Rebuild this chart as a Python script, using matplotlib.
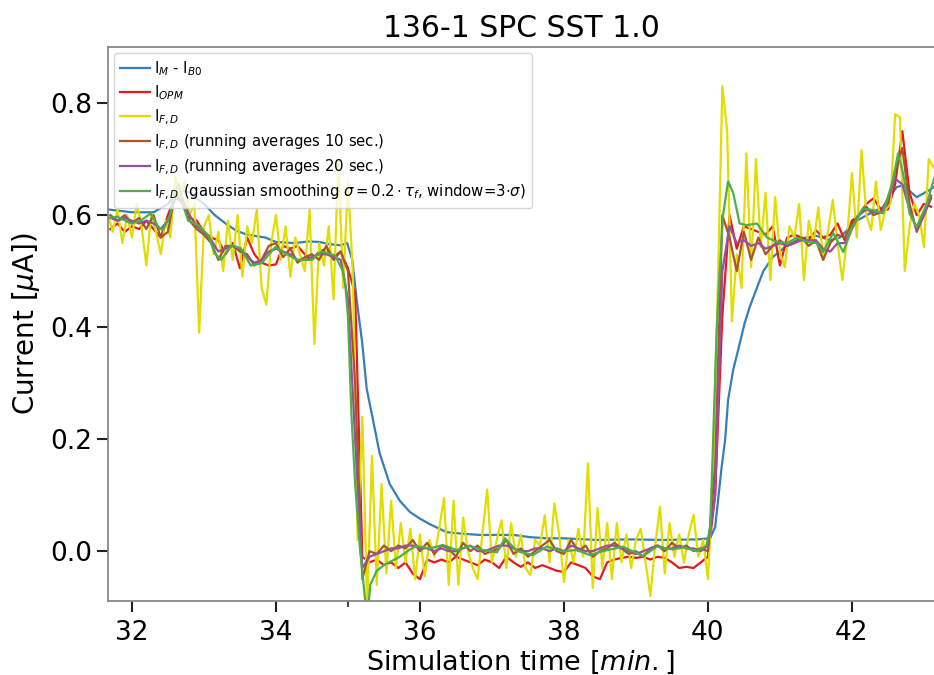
import numpy as np
import matplotlib
matplotlib.use("Agg")
import matplotlib.pyplot as plt

# ---------------- data ----------------
# I_M - I_B0 (smooth, explicit sample times)
t_blue = [31.67, 32.0, 32.3, 32.5, 32.65, 32.8, 33.0, 33.15, 33.3, 33.45, 33.6, 33.85,
          34.0, 34.26, 34.45, 34.6, 34.75, 34.9, 34.99, 35.06, 35.12, 35.2, 35.26, 35.33,
          35.44, 35.58, 35.72, 35.86, 36.0, 36.14, 36.37, 36.6, 36.83, 37.3, 37.53, 37.76,
          37.99, 38.45, 38.92, 39.38, 39.85, 40.03, 40.1, 40.14, 40.19, 40.24, 40.28, 40.35,
          40.44, 40.51, 40.58, 40.68, 40.77, 40.9, 41.1, 41.28, 41.51, 41.7, 41.83, 42.07,
          42.25, 42.43, 42.62, 42.71, 42.9, 43.08, 43.14]
v_blue = [0.61, 0.605, 0.605, 0.62, 0.645, 0.64, 0.62, 0.60, 0.585, 0.572, 0.565, 0.56,
          0.552, 0.55, 0.553, 0.552, 0.548, 0.546, 0.55, 0.52, 0.45, 0.37, 0.29, 0.246,
          0.175, 0.12, 0.09, 0.07, 0.058, 0.048, 0.034, 0.031, 0.029, 0.029, 0.025, 0.023,
          0.023, 0.02, 0.021, 0.02, 0.021, 0.023, 0.043, 0.09, 0.15, 0.20, 0.27, 0.323,
          0.37, 0.407, 0.436, 0.47, 0.50, 0.525, 0.546, 0.558, 0.563, 0.555, 0.56, 0.59,
          0.603, 0.614, 0.65, 0.653, 0.632, 0.645, 0.65]

# 0.1-minute sampled series, starting at 31.7 min (one row per minute)
t10_start = 31.7
v_red = [0.575, 0.585, 0.57, 0.58, 0.575, 0.59, 0.575, 0.56, 0.60, 0.635,
         0.63, 0.595, 0.59, 0.57, 0.56, 0.555, 0.53, 0.55, 0.505, 0.56,
         0.53, 0.515, 0.51, 0.512, 0.545, 0.54, 0.545, 0.53, 0.52, 0.535,
         0.54, 0.525, 0.535, 0.505, 0.46, -0.01, -0.02, -0.015, -0.025, -0.02,
         -0.03, -0.02, -0.04, -0.05, -0.015, -0.02, -0.015, -0.02, -0.01, -0.015,
         -0.02, -0.025, -0.015, -0.02, -0.03, -0.01, -0.02, -0.028, -0.02, -0.03,
         -0.025, -0.03, -0.035, -0.037, -0.02, -0.025, -0.03, -0.045, -0.05, -0.02,
         -0.015, -0.012, -0.01, -0.012, -0.01, -0.015, -0.01, -0.012, -0.02, -0.03,
         -0.028, -0.03, -0.02, -0.01, 0.10, 0.42, 0.60, 0.54, 0.58, 0.575,
         0.57, 0.565, 0.58, 0.51, 0.56, 0.565, 0.56, 0.555, 0.573, 0.56,
         0.565, 0.585, 0.555, 0.59, 0.60, 0.62, 0.63, 0.61, 0.61, 0.655,
         0.75, 0.64, 0.60, 0.62, 0.615]
v_brown = [0.60, 0.59, 0.60, 0.585, 0.595, 0.575, 0.60, 0.56, 0.57, 0.64,
           0.62, 0.59, 0.575, 0.565, 0.55, 0.52, 0.545, 0.545, 0.535, 0.53,
           0.51, 0.52, 0.545, 0.55, 0.525, 0.54, 0.515, 0.525, 0.53, 0.52,
           0.545, 0.52, 0.535, 0.50, 0.30, -0.05, 0.0, -0.005, 0.01, 0.0,
           0.01, 0.005, 0.02, 0.0, 0.015, -0.005, 0.01, 0.005, -0.01, 0.015,
           0.0, 0.01, -0.005, 0.0, 0.005, 0.02, -0.005, 0.005, -0.01, 0.0,
           0.01, 0.02, 0.0, -0.005, 0.02, 0.0, 0.01, -0.01, 0.0, 0.005,
           0.015, 0.005, -0.005, 0.0, -0.01, 0.005, 0.01, 0.0, 0.015, 0.005,
           0.01, 0.0, 0.005, 0.0, 0.15, 0.60, 0.56, 0.50, 0.57, 0.52,
           0.56, 0.53, 0.545, 0.555, 0.545, 0.55, 0.56, 0.545, 0.555, 0.52,
           0.55, 0.565, 0.56, 0.585, 0.60, 0.615, 0.60, 0.605, 0.62, 0.68,
           0.72, 0.62, 0.57, 0.60, 0.63]
v_purple = [0.595, 0.59, 0.595, 0.59, 0.585, 0.59, 0.585, 0.575, 0.59, 0.63,
            0.625, 0.60, 0.58, 0.57, 0.555, 0.535, 0.54, 0.545, 0.54, 0.525,
            0.515, 0.52, 0.535, 0.54, 0.535, 0.53, 0.52, 0.52, 0.525, 0.53,
            0.53, 0.525, 0.52, 0.45, 0.20, -0.03, -0.01, -0.005, 0.0, 0.005,
            0.005, 0.01, 0.01, 0.005, 0.005, 0.0, 0.005, 0.0, 0.0, 0.005,
            0.01, 0.0, 0.0, 0.005, 0.01, 0.01, 0.005, 0.0, 0.0, 0.005,
            0.005, 0.0, 0.005, 0.0, 0.01, 0.005, 0.0, 0.0, 0.005, 0.01,
            0.01, 0.005, 0.0, -0.005, 0.0, 0.005, 0.01, 0.005, 0.005, 0.01,
            0.005, 0.005, 0.0, 0.01, 0.10, 0.50, 0.58, 0.55, 0.555, 0.545,
            0.55, 0.54, 0.545, 0.55, 0.545, 0.55, 0.555, 0.555, 0.555, 0.54,
            0.535, 0.55, 0.55, 0.575, 0.60, 0.61, 0.605, 0.605, 0.63, 0.665,
            0.655, 0.61, 0.575, 0.60, 0.635]

# I_F,D raw, 4-second sampling starting at 31.667 min (15 values per minute)
yel_start = 31.667
v_yellow = [0.60, 0.57, 0.61, 0.55, 0.60, 0.56, 0.62, 0.58, 0.51, 0.60, 0.57, 0.53, 0.59, 0.56, 0.67,
            0.63, 0.66, 0.60, 0.62, 0.39, 0.58, 0.60, 0.53, 0.57, 0.50, 0.59, 0.52, 0.60, 0.49, 0.58,
            0.55, 0.61, 0.47, 0.44, 0.55, 0.60, 0.52, 0.58, 0.49, 0.56, 0.53, 0.50, 0.61, 0.37, 0.55,
            0.51, 0.58, 0.45, 0.70, 0.47, 0.66, 0.50, 0.02, 0.24, -0.10, 0.17, -0.06, 0.12, -0.04, 0.09,
            -0.03, 0.05, -0.02, 0.04, -0.05, 0.03, -0.045, 0.02, -0.01, 0.04, 0.095, -0.06, 0.09, -0.06, 0.06,
            0.0, -0.03, -0.05, 0.03, 0.11, -0.02, 0.02, 0.055, -0.03, 0.05, -0.01, 0.03, -0.03, -0.043, 0.02,
            0.01, 0.064, -0.02, 0.085, 0.03, -0.055, 0.02, -0.02, 0.04, -0.01, 0.157, -0.066, 0.077, -0.03, 0.05,
            -0.05, 0.05, -0.02, 0.03, -0.03, 0.02, 0.04, -0.02, -0.08, 0.01, 0.079, -0.04, 0.05, -0.01, 0.03,
            -0.02, 0.03, 0.065, -0.01, 0.02, -0.05, 0.12, 0.45, 0.83, 0.75, 0.41, 0.53, 0.47, 0.71, 0.507,
            0.70, 0.543, 0.64, 0.484, 0.632, 0.532, 0.507, 0.58, 0.56, 0.62, 0.484, 0.59, 0.55, 0.614, 0.52,
            0.57, 0.627, 0.55, 0.484, 0.56, 0.675, 0.56, 0.716, 0.60, 0.573, 0.66, 0.573, 0.61, 0.62, 0.78,
            0.775, 0.50, 0.58, 0.62, 0.60, 0.543, 0.70, 0.685]

# gaussian smoothed (explicit sample times)
t_green = [31.67, 31.8, 31.99, 32.12, 32.26, 32.36, 32.43, 32.53, 32.6, 32.65, 32.72, 32.78,
           32.92, 33.06, 33.15, 33.24, 33.38, 33.51, 33.65, 33.8, 33.99, 34.12, 34.3, 34.49,
           34.63, 34.82, 34.93, 34.96, 35.0, 35.05, 35.1, 35.17, 35.24, 35.27, 35.31, 35.4,
           35.5, 35.6, 35.72, 35.86, 35.95, 36.14, 36.32, 36.51, 36.69, 36.88, 37.07, 37.18,
           37.35, 37.57, 37.76, 37.99, 38.18, 38.36, 38.54, 38.82, 39.1, 39.29, 39.51, 39.65,
           39.85, 39.98, 40.03, 40.06, 40.09, 40.12, 40.15, 40.21, 40.28, 40.35, 40.44, 40.54,
           40.68, 40.82, 40.96, 41.1, 41.24, 41.38, 41.51, 41.6, 41.74, 41.88, 42.01, 42.15,
           42.29, 42.43, 42.57, 42.64, 42.71, 42.8, 42.9, 43.04, 43.14]
v_green = [0.595, 0.597, 0.585, 0.59, 0.603, 0.58, 0.573, 0.60, 0.645, 0.655, 0.615, 0.59,
           0.582, 0.564, 0.532, 0.52, 0.546, 0.541, 0.51, 0.514, 0.543, 0.532, 0.52, 0.52,
           0.535, 0.528, 0.50, 0.48, 0.42, 0.24, 0.12, 0.0, -0.088, -0.12, -0.06, -0.035,
           -0.025, -0.018, -0.01, 0.003, 0.009, 0.005, 0.011, 0.002, 0.009, 0.002, -0.002, 0.023,
           0.0, -0.007, 0.008, 0.0, 0.002, -0.007, 0.0, 0.008, -0.009, 0.008, 0.003, 0.007,
           0.0, 0.01, 0.043, 0.15, 0.27, 0.39, 0.47, 0.60, 0.66, 0.64, 0.585, 0.582,
           0.585, 0.56, 0.552, 0.55, 0.56, 0.552, 0.55, 0.534, 0.568, 0.534, 0.579, 0.612,
           0.609, 0.603, 0.662, 0.71, 0.675, 0.603, 0.579, 0.62, 0.665]

labels = [r'I$_M$ - I$_{B0}$',
          r'I$_{OPM}$',
          r'I$_{F,D}$',
          r'I$_{F,D}$ (running averages 10 sec.)',
          r'I$_{F,D}$ (running averages 20 sec.)',
          r'I$_{F,D}$ (gaussian smoothing $\sigma=0.2\cdot\tau_f$, window=3$\cdot\sigma$)']
colors = ['#377eb8', '#e41a1c', '#e2dd00', '#a65628', '#984ea3', '#4daf4a']

# ---------------- plot ----------------
t10 = t10_start + 0.1 * np.arange(len(v_red))
t10b = t10_start + 0.1 * np.arange(len(v_brown))
t10p = t10_start + 0.1 * np.arange(len(v_purple))
t_yel = yel_start + np.arange(len(v_yellow)) / 15.0

fig = plt.figure(figsize=(9.34, 6.75), dpi=100)
ax = fig.add_axes([0.1156, 0.1096, 0.8844, 0.8207])

lw = 1.6
ax.plot(t_blue, v_blue, color=colors[0], lw=lw, label=labels[0])
ax.plot(t10, v_red, color=colors[1], lw=lw, label=labels[1])
ax.plot(t_yel, v_yellow, color=colors[2], lw=lw, label=labels[2])
ax.plot(t10b, v_brown, color=colors[3], lw=lw, label=labels[3])
ax.plot(t10p, v_purple, color=colors[4], lw=lw, label=labels[4])
ax.plot(t_green, v_green, color=colors[5], lw=lw, label=labels[5])

ax.set_xlim(31.667, 43.14)
ax.set_ylim(-0.089, 0.9)
ax.set_xticks([32, 34, 36, 38, 40, 42])
ax.set_xticks([35], minor=True)
ax.set_yticks([0.0, 0.2, 0.4, 0.6, 0.8])
ax.tick_params(axis='both', which='major', labelsize=19, length=8, width=1.5, color='#222222')
ax.tick_params(axis='x', which='major', pad=6)
ax.tick_params(axis='x', which='minor', length=4, width=1.2, color='#222222')

for s in ['top', 'bottom', 'left']:
    ax.spines[s].set_color('#888888')
    ax.spines[s].set_linewidth(1.3)
ax.spines['right'].set_visible(False)

ax.set_title('136-1 SPC SST 1.0', fontsize=21.5, pad=7)
ax.set_xlabel(r'Simulation time [$min.$]', fontsize=19.5, labelpad=2)
ax.set_ylabel(r'Current [$\mu$A])', fontsize=20, labelpad=6)

leg = ax.legend(loc='upper left', fontsize=10.7, labelspacing=0.38, borderaxespad=0.4,
                handlelength=2.0, handletextpad=0.3, framealpha=0.8, edgecolor='#cccccc')

fig.savefig('out.png', dpi=100)
